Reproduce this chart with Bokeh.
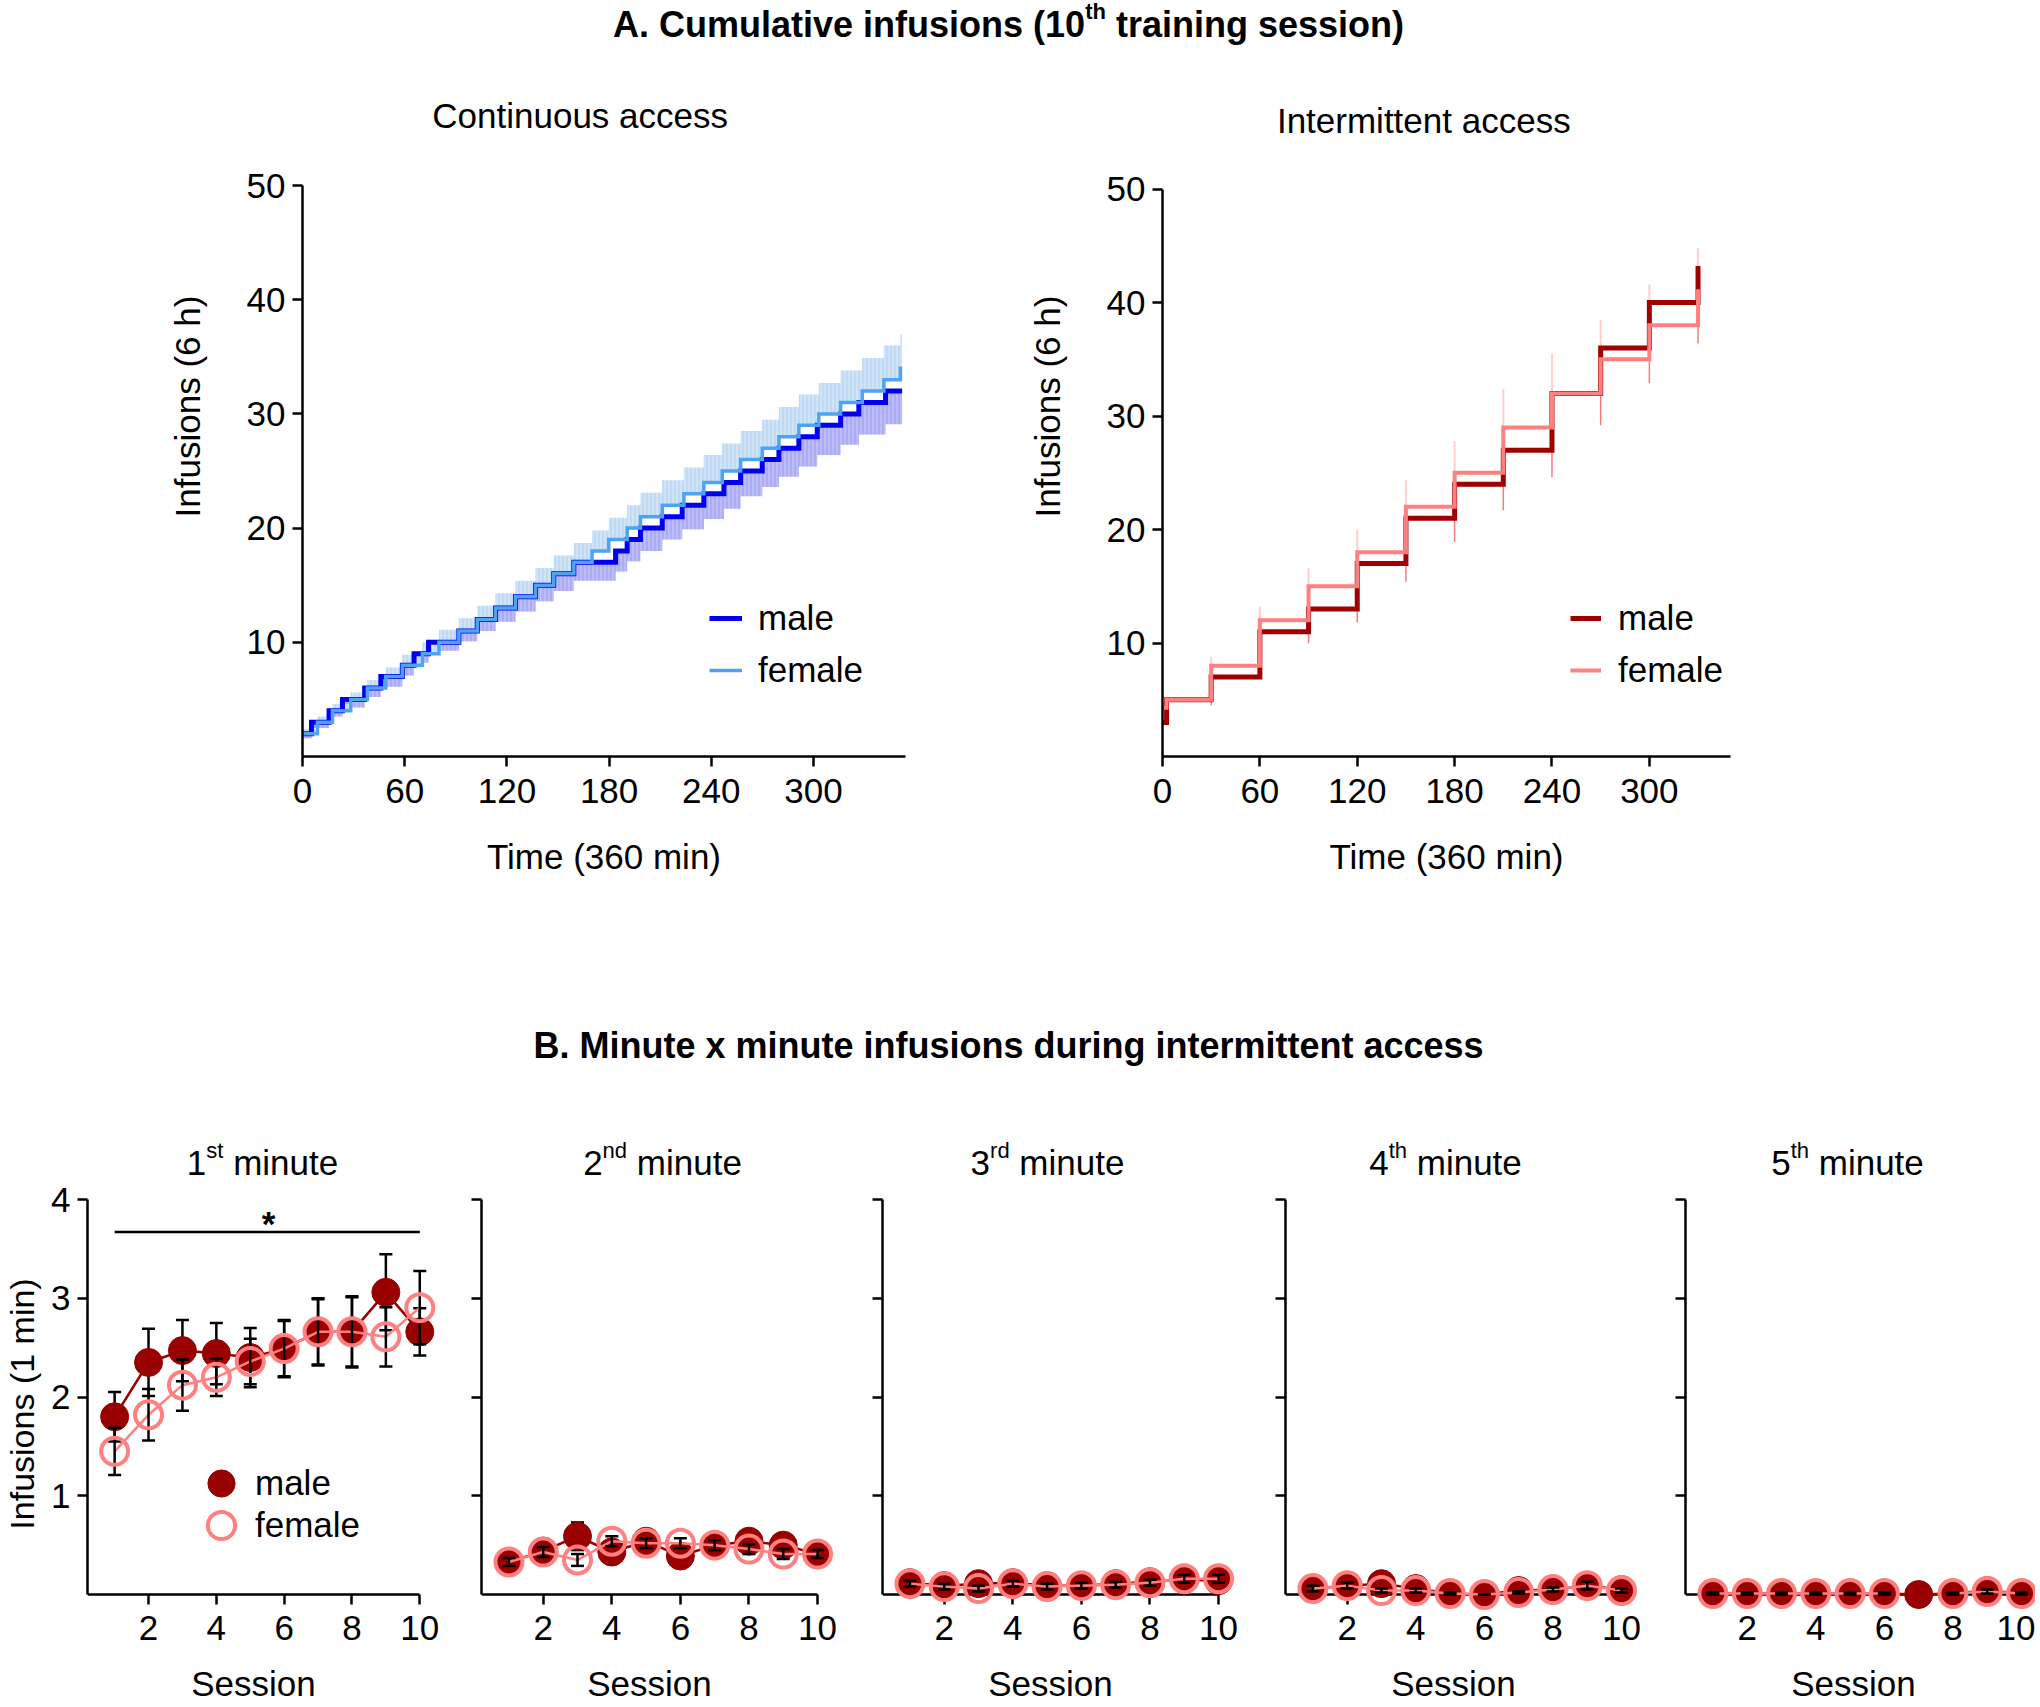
import numpy as np
from bokeh.plotting import figure
from bokeh.models import Range1d, FixedTicker, Label, Legend, LegendItem, ColumnDataSource
from bokeh.layouts import column, row
from bokeh.embed import file_html
from bokeh.resources import INLINE

FONT = "Liberation Sans"

# ---------------- Panel A: continuous access (10th session) ----------------
cont_male_t = [0, 5.3, 15.6, 23.5, 36.5, 46, 58.6, 65.5, 74, 91.8, 102.6, 113.3, 125, 136.8,
               147.5, 159.3, 183.8, 190.6, 198.4, 211.2, 222.9, 235.6, 247.4, 257.2, 269.9,
               279.7, 291.4, 302.2, 315.9, 326.6, 342.3]
cont_male_y = [2, 3, 4, 5, 6, 7, 8, 9, 10, 11, 12, 13, 14, 15, 16, 17, 18, 19, 20, 21, 22, 23,
               24, 25, 26, 27, 28, 29, 30, 31, 32]
cont_male_sem = [0.4, 0.5, 0.5, 0.7, 0.8, 0.9, 0.9, 0.8, 0.75, 0.9, 1.0, 1.2, 1.3, 1.4, 1.5, 1.6,
                 1.8, 1.9, 2.0, 2.0, 2.1, 2.2, 2.3, 2.2, 2.4, 2.5, 2.6, 2.6, 2.7, 2.8, 2.9]
cont_female_t = [0, 8.8, 17.6, 28.3, 38.1, 48.9, 58.6, 70.4, 80.1, 91.8, 102.6, 113.3, 125, 136.8,
                 147.5, 159.3, 170, 179.8, 190.6, 198.4, 211.2, 223.9, 235.6, 246.4, 257.2, 269.9,
                 279.7, 291.4, 303.1, 315.9, 328.6, 341.3, 351]
cont_female_y = [2, 3, 4, 5, 6, 7, 8, 9, 10, 11, 12, 13, 14, 15, 16, 17, 18, 19, 20, 21, 22, 23,
                 24, 25, 26, 27, 28, 29, 30, 31, 32, 33, 34]
cont_female_sem = [0.4, 0.5, 0.6, 0.6, 0.7, 0.8, 0.9, 1.0, 1.1, 1.1, 1.2, 1.3, 1.4, 1.5, 1.6, 1.7,
                   1.8, 1.9, 2.0, 2.1, 2.2, 2.3, 2.4, 2.4, 2.5, 2.5, 2.6, 2.7, 2.7, 2.8, 2.9, 3.0, 3.0]
cont_end = 352

# ---------------- Panel A: intermittent access ----------------
int_male_t = [0, 2.5, 30, 60, 90, 120, 150, 180, 210, 240, 270, 300, 330]
int_male_y = [3, 5, 7, 11, 13, 17, 21, 24, 27, 32, 36, 40, 43]
int_female_t = [0, 2.5, 30, 60, 90, 120, 150, 180, 210, 240, 270, 300, 330]
int_female_y = [4.3, 5, 8, 12, 15, 18, 22, 25, 29, 32, 35, 38, 41]
int_end = 331.5
int_err_t = [30, 60, 90, 120, 150, 180, 210, 240, 270, 300, 330]
int_err_lo = [4.5, 10.0, 10.0, 11.8, 15.4, 18.9, 21.7, 24.6, 29.2, 32.9, 36.4]
int_err_hi = [8.8, 13.2, 16.6, 20.0, 24.4, 27.8, 32.4, 35.5, 38.5, 41.6, 44.8]

time_ticks = [0, 60, 120, 180, 240, 300]
cum_ticks = [10, 20, 30, 40, 50]

# ---------------- Panel B: minute x minute infusions ----------------
sessions = [1, 2, 3, 4, 5, 6, 7, 8, 9, 10]
session_ticks = [2, 4, 6, 8, 10]
min_ticks = [1, 2, 3, 4]
minute_titles = [("1", "st"), ("2", "nd"), ("3", "rd"), ("4", "th"), ("5", "th")]
male_min = [
    [1.80, 2.35, 2.47, 2.44, 2.40, 2.49, 2.66, 2.66, 3.06, 2.66],
    [0.33, 0.44, 0.59, 0.43, 0.54, 0.39, 0.50, 0.54, 0.50, 0.41],
    [0.12, 0.09, 0.11, 0.12, 0.09, 0.09, 0.11, 0.13, 0.15, 0.14],
    [0.06, 0.09, 0.11, 0.06, 0.01, 0.00, 0.04, 0.05, 0.09, 0.05],
    [0.01, 0.01, 0.01, 0.01, 0.01, 0.01, 0.00, 0.01, 0.04, 0.01],
]
male_min_sem = [
    [0.25, 0.34, 0.31, 0.31, 0.30, 0.29, 0.34, 0.36, 0.385, 0.24],
    [0.04, 0.05, 0.14, 0.05, 0.05, 0.05, 0.05, 0.05, 0.05, 0.04],
    [0.03, 0.03, 0.05, 0.03, 0.03, 0.03, 0.03, 0.03, 0.04, 0.03],
    [0.03, 0.03, 0.04, 0.03, 0.01, 0.00, 0.02, 0.02, 0.04, 0.02],
    [0.01, 0.01, 0.01, 0.01, 0.01, 0.01, 0.00, 0.01, 0.02, 0.01],
]
female_min = [
    [1.45, 1.82, 2.12, 2.20, 2.36, 2.49, 2.66, 2.66, 2.61, 2.905],
    [0.33, 0.43, 0.35, 0.54, 0.52, 0.52, 0.50, 0.46, 0.41, 0.41],
    [0.11, 0.08, 0.06, 0.11, 0.08, 0.09, 0.10, 0.12, 0.16, 0.16],
    [0.06, 0.09, 0.04, 0.04, 0.01, 0.00, 0.02, 0.05, 0.09, 0.04],
    [0.01, 0.01, 0.01, 0.01, 0.01, 0.01, float("nan"), 0.01, 0.03, 0.01],
]
female_min_sem = [
    [0.24, 0.26, 0.26, 0.19, 0.23, 0.28, 0.33, 0.35, 0.30, 0.37],
    [0.04, 0.05, 0.06, 0.05, 0.05, 0.05, 0.05, 0.05, 0.05, 0.04],
    [0.03, 0.03, 0.03, 0.03, 0.03, 0.03, 0.03, 0.03, 0.04, 0.04],
    [0.03, 0.03, 0.02, 0.02, 0.01, 0.00, 0.01, 0.02, 0.04, 0.02],
    [0.01, 0.01, 0.01, 0.01, 0.01, 0.01, float("nan"), 0.01, 0.02, 0.01],
]
sig_x = [1, 10]
sig_y = 3.67
sig_star_x, sig_star_y = 5.54, 3.76

# ---------------- colours ----------------
C_M = "#0000ee"
C_F = "#4da3f5"
BAND_M, HATCH_M = "#bcbcf8", "#9c9cf0"
BAND_F, HATCH_F = "#d0e4f8", "#b0d0f2"
I_M, I_F = "#a00000", "#ff8080"
B_M, B_F = "#990000", "#ff8080"

# Arial/Liberation advance widths (em) for composing superscript titles
W_REG = {' ': .278, 'm': .833, 'i': .222, 'n': .556, 'u': .556, 't': .278, 'e': .556, 's': .5,
         'd': .556, 'r': .333, 'h': .556}
W_BOLD = {'A': .722, '.': .278, ' ': .278, 'C': .722, 'u': .611, 'm': .889, 'l': .278, 'a': .556,
          't': .333, 'i': .278, 'v': .556, 'e': .556, 'n': .611, 'f': .333, 's': .556, 'o': .611,
          '(': .333, ')': .333, 'h': .611, 'r': .389, 'g': .611}


def text_w(s, px, bold):
    tab = W_BOLD if bold else W_REG
    return sum(tab.get(c, 0.556) for c in s) * px


def sup_title(p, cx, cy, parts, size, sup_size, bold, raise_px):
    widths = [text_w(t, sup_size if s else size, bold) for t, s in parts]
    x = -sum(widths) / 2
    for (t, s), w in zip(parts, widths):
        fs = sup_size if s else size
        lead = 0
        txt = t
        while txt.startswith(" "):
            lead += text_w(" ", fs, bold)
            txt = txt[1:]
        p.add_layout(Label(x=cx, y=cy, x_offset=x + lead, y_offset=(raise_px if s else 0),
                           text=txt, text_font=FONT, text_font_size=f"{fs}px",
                           text_font_style="bold" if bold else "normal", text_color="black",
                           text_align="left", text_baseline="alphabetic"))
        x += w


def stepify(t, y, t_end):
    xs, ys = [], []
    for i, (ti, yi) in enumerate(zip(t, y)):
        tn = t[i + 1] if i + 1 < len(t) else t_end
        xs.extend([ti, tn])
        ys.extend([yi, yi])
    return np.array(xs, float), np.array(ys, float)


def style_axes(p, fs="35px"):
    for ax in list(p.xaxis) + list(p.yaxis):
        ax.axis_line_width = 2.5
        ax.axis_line_color = "black"
        ax.major_tick_line_width = 2.5
        ax.major_tick_line_color = "black"
        ax.major_tick_out = 10
        ax.major_tick_in = 0
        ax.minor_tick_line_color = None
        ax.major_label_text_font = FONT
        ax.major_label_text_font_size = fs
        ax.major_label_text_color = "black"
        ax.axis_label_text_font = FONT
        ax.axis_label_text_font_size = fs
        ax.axis_label_text_font_style = "normal"
        ax.axis_label_text_color = "black"
    p.xgrid.visible = False
    p.ygrid.visible = False
    p.outline_line_color = None
    p.background_fill_color = "white"
    p.border_fill_color = "white"


def strip(height, width=2035):
    s = figure(width=width, height=height, x_range=Range1d(0, width), y_range=Range1d(0, height),
               x_axis_type=None, y_axis_type=None, min_border=0, output_backend="svg",
               toolbar_location=None)
    s.outline_line_color = None
    s.xgrid.visible = False
    s.ygrid.visible = False
    return s


def cum_figure(width, left, right, x_end, y_end):
    # frame spans from the canvas top to the x axis; y axis line bounded to 0..50
    p = figure(width=width, height=900, x_range=Range1d(0, x_end), y_range=Range1d(0, y_end),
               min_border_left=left, min_border_right=right, min_border_top=0,
               min_border_bottom=200, output_backend="svg", toolbar_location=None)
    style_axes(p)
    p.yaxis.bounds = (0, 50)
    p.xaxis.ticker = FixedTicker(ticks=time_ticks)
    p.yaxis.ticker = FixedTicker(ticks=cum_ticks)
    p.xaxis.axis_label = "Time (360 min)"
    p.yaxis.axis_label = "Infusions (6 h)"
    p.xaxis.major_label_standoff = 12
    p.xaxis.axis_label_standoff = 31
    p.yaxis.major_label_standoff = 7
    p.yaxis.axis_label_standoff = 37
    return p


def legend_for(p, items, loc, glyph_w, standoff, spacing, glyph_h=40):
    leg = Legend(items=items, location=loc, glyph_width=glyph_w, glyph_height=glyph_h,
                 label_height=40, label_standoff=standoff, spacing=spacing, padding=0, margin=0,
                 label_text_font=FONT, label_text_font_size="35px", label_text_color="black",
                 border_line_color=None, background_fill_alpha=0)
    p.add_layout(leg)


# ---------------- Title strip A ----------------
sA = strip(56)
sup_title(sA, 1008, 32, [("A. Cumulative infusions (10", False), ("th", True),
                         (" training session)", False)], 36, 22, True, 13)

# ---------------- Continuous access ----------------
pL = cum_figure(1022, 302, 117, 354, 61.30)
mx, my = stepify(cont_male_t, cont_male_y, cont_end)
_, mlo = stepify(cont_male_t, np.subtract(cont_male_y, cont_male_sem), cont_end)
fx, fy = stepify(cont_female_t, cont_female_y, cont_end)
_, fhi = stepify(cont_female_t, np.add(cont_female_y, cont_female_sem), cont_end)
pL.varea(x=mx, y1=mlo, y2=my, fill_color=BAND_M, hatch_pattern="vertical_line",
         hatch_color=HATCH_M, hatch_scale=4, hatch_weight=1)
pL.varea(x=fx, y1=fy, y2=fhi, fill_color=BAND_F, hatch_pattern="vertical_line",
         hatch_color=HATCH_F, hatch_scale=4, hatch_weight=1)
rLm = pL.line(mx, my, line_color=C_M, line_width=5, line_join="miter")
rLf = pL.line(fx, fy, line_color=C_F, line_width=3.5, line_join="miter")
pL.add_layout(Label(x=163, y=56.15, text="Continuous access", text_font=FONT, text_color="black",
                    text_font_size="35px", text_align="center", text_baseline="alphabetic"))
legend_for(pL, [LegendItem(label="male", renderers=[rLm]),
                LegendItem(label="female", renderers=[rLf])], (407, 66), 33, 16, 12)

# ---------------- Intermittent access ----------------
pR = cum_figure(808, 140, 100, 350, 61.69)
err_src = ColumnDataSource(dict(x=int_err_t, lo=int_err_lo, mid=int_female_y[2:], hi=int_err_hi))
pR.segment(x0="x", y0="lo", x1="x", y1="mid", source=err_src, line_color="#f07070",
           line_width=1.5, line_alpha=0.9)
pR.segment(x0="x", y0="mid", x1="x", y1="hi", source=err_src, line_color="#ffd0d0",
           line_width=2)
imx, imy = stepify(int_male_t, int_male_y, int_end)
ifx, ify = stepify(int_female_t, int_female_y, int_end)
rRm = pR.line(imx, imy, line_color=I_M, line_width=5, line_join="miter")
rRf = pR.line(ifx, ify, line_color=I_F, line_width=4, line_join="miter")
pR.add_layout(Label(x=161, y=56.06, text="Intermittent access", text_font=FONT, text_color="black",
                    text_font_size="35px", text_align="center", text_baseline="alphabetic"))
legend_for(pR, [LegendItem(label="male", renderers=[rRm]),
                LegendItem(label="female", renderers=[rRf])], (408, 66), 31, 17, 12)

# ---------------- Title strip B ----------------
sB = strip(144)
sB.add_layout(Label(x=1008, y=55, text="B. Minute x minute infusions during intermittent access",
                    text_font=FONT, text_font_size="36px", text_font_style="bold",
                    text_color="black", text_align="center", text_baseline="alphabetic"))

# ---------------- Minute panels ----------------
PX_PER_SESSION = 34.29
BOT_H = 607
Y_LO, Y_HI = -1.144, 5.0025
panel_specs = [(83, 357, 1), (40, 357, 1), (43, 357, 1), (45, 357, 1), (42, 350, 0)]
title_offsets = [177, 181, 165, 160, 162]
bottom_figs = []
for i in range(5):
    left, fw, right = panel_specs[i]
    x_end = 0.2 + fw / PX_PER_SESSION
    p = figure(width=left + fw + right, height=BOT_H, x_range=Range1d(0.2, x_end),
               y_range=Range1d(Y_LO, Y_HI), min_border_left=left, min_border_right=right,
               min_border_top=0, min_border_bottom=0, output_backend="svg",
               toolbar_location=None)
    style_axes(p)
    p.xaxis.fixed_location = 0
    p.xaxis.bounds = (0.2, 10)
    p.yaxis.bounds = (0, 4)
    p.xaxis.level = "underlay"
    p.xaxis.ticker = FixedTicker(ticks=session_ticks)
    p.yaxis.ticker = FixedTicker(ticks=min_ticks)
    p.xaxis.axis_label = "Session"
    p.xaxis.major_label_standoff = 11
    p.xaxis.axis_label_standoff = 21
    if i == 0:
        p.yaxis.axis_label = "Infusions (1 min)"
        p.yaxis.major_label_standoff = 7
        p.yaxis.axis_label_standoff = 7
        p.yaxis.axis_label_text_font_size = "34px"
    else:
        p.yaxis.major_label_text_color = None
        p.yaxis.major_label_standoff = 0

    m = np.array(male_min[i], float)
    ms = np.array(male_min_sem[i], float)
    f = np.array(female_min[i], float)
    fs_ = np.array(female_min_sem[i], float)
    msrc = ColumnDataSource(dict(x=sessions, y=m, lo=m - ms, hi=m + ms))
    fsrc = ColumnDataSource(dict(x=sessions, y=f, lo=f - fs_, hi=f + fs_))

    p.line("x", "y", source=msrc, line_color=B_M, line_width=2.5)
    p.segment(x0="x", y0="lo", x1="x", y1="hi", source=msrc, line_color="black", line_width=2.5)
    p.scatter("x", "hi", source=msrc, marker="dash", size=13, line_color="black", line_width=2.5)
    p.scatter("x", "lo", source=msrc, marker="dash", size=13, line_color="black", line_width=2.5)
    rm = p.scatter("x", "y", source=msrc, marker="circle", size=28, fill_color=B_M, line_color=B_M)

    p.line("x", "y", source=fsrc, line_color=B_F, line_width=2.5)
    p.segment(x0="x", y0="lo", x1="x", y1="hi", source=fsrc, line_color="black", line_width=2.5)
    p.scatter("x", "hi", source=fsrc, marker="dash", size=13, line_color="black", line_width=2.5)
    p.scatter("x", "lo", source=fsrc, marker="dash", size=13, line_color="black", line_width=2.5)
    rf = p.scatter("x", "y", source=fsrc, marker="circle", size=27, fill_color=None,
                   line_color=B_F, line_width=4)

    num, sup = minute_titles[i]
    sup_title(p, 0.2 + title_offsets[i] / PX_PER_SESSION, 4.37,
              [(num, False), (sup, True), (" minute", False)], 35, 22, False, 12)

    if i == 0:
        p.segment(x0=[sig_x[0]], y0=[sig_y], x1=[sig_x[1]], y1=[sig_y], line_color="black",
                  line_width=2.5)
        p.add_layout(Label(x=sig_star_x, y=sig_star_y, text="*", text_font=FONT,
                           text_font_size="35px", text_font_style="bold", text_align="center",
                           text_baseline="middle", text_color="black"))
        legend_for(p, [LegendItem(label="male", renderers=[rm])], (100, 190), 68, 0, 0,
                   glyph_h=68)
        legend_for(p, [LegendItem(label="female", renderers=[rf])], (100, 148), 68, 0, 0,
                   glyph_h=68)
    bottom_figs.append(p)

layout = column(sA, row(pL, pR), sB, row(*bottom_figs))
open("out.html", "w").write(file_html(layout, INLINE))
